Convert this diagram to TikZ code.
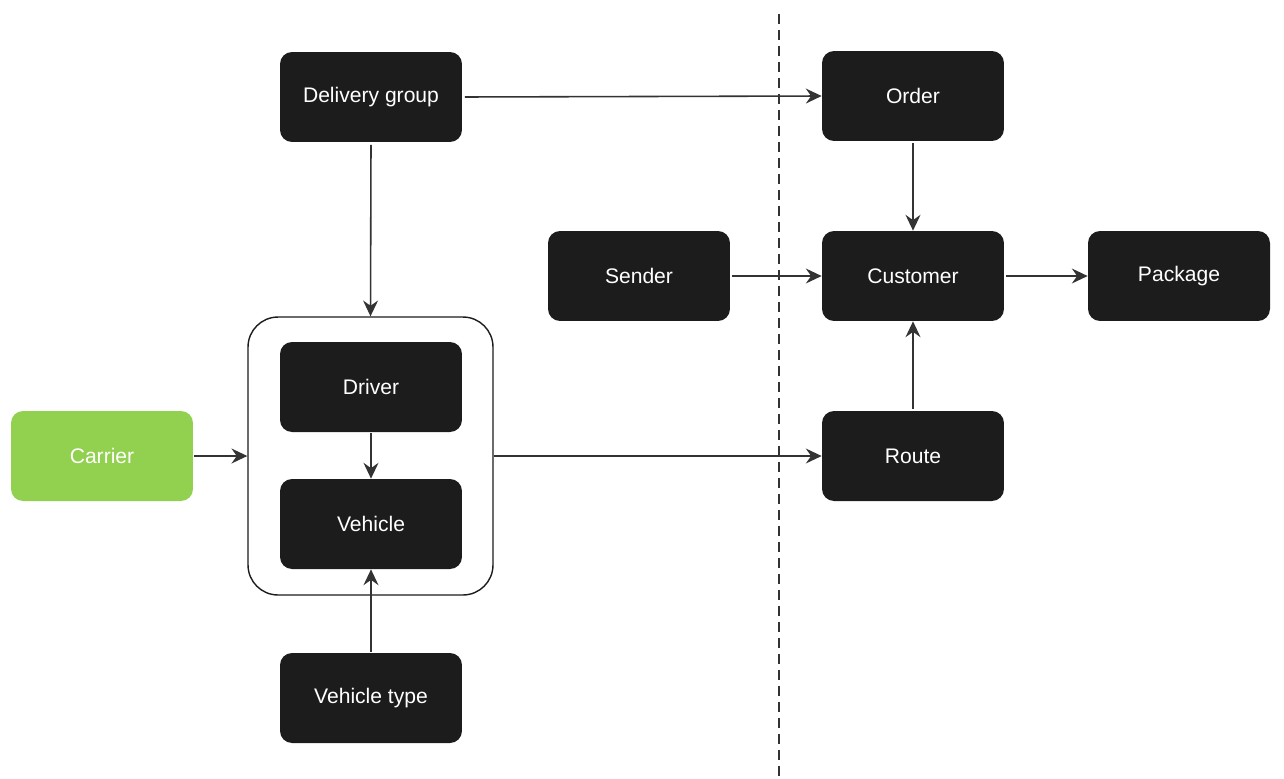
\documentclass[tikz,border=0pt]{standalone}
\usepackage{fontspec}
\setmainfont{Liberation Sans}
\usepackage{tikz}
\usetikzlibrary{arrows.meta}
\definecolor{boxdark}{HTML}{1C1C1C}
\definecolor{boxgreen}{HTML}{92D050}
\tikzset{
  font={\fontsize{12pt}{14}\selectfont}}

\begin{document}
\begin{tikzpicture}[x=0.02cm,y=-0.02cm]
\tikzstyle{entity}=[fill=boxdark, text=white, rounded corners=0.24cm, minimum width=3.64cm, minimum height=1.8cm, inner sep=0pt]
\tikzstyle{link}=[draw=boxdark!90!white, line width=0.9pt, -{Stealth[length=9pt,width=8.5pt,inset=3pt]}]
\useasboundingbox (0,0) rectangle (1284,778);
% boundary
\draw [boxdark!90!white, line width=0.8pt, dash pattern=on 0.2cm off 0.12cm] (779,14) -- (779,778);
% group frame
\node [draw=boxdark, line width=0.8pt, rounded corners=0.6cm, minimum width=4.9cm, minimum height=5.56cm] (crew) at (370.5,456) {};
\node [entity] (dgroup) at (371,97) {Delivery group};
\node [entity] (order) at (913,96) {Order};
\node [entity] (sender) at (639,276) {Sender};
\node [entity] (customer) at (913,276) {Customer};
\node [entity] (package) at (1179,276) {Package};
\node [entity] (driver) at (371,387) {Driver};
\node [entity] (vehicle) at (371,524) {Vehicle};
\node [entity, fill=boxgreen] (carrier) at (102,456) {Carrier};
\node [entity] (route) at (913,456) {Route};
\node [entity] (vtype) at (371,698) {Vehicle type};
\draw [link, shorten <=1.5pt] (dgroup.east) -- (order.west);
\draw [link, shorten <=1.5pt] (dgroup.south) -- (crew.north);
\draw [link, shorten <=1pt] (order.south) -- (customer.north);
\draw [link, shorten <=1pt] (sender.east) -- (customer.west);
\draw [link, shorten <=1pt] (customer.east) -- (package.west);
\draw [link, shorten <=1pt] (route.north) -- (customer.south);
\draw [link, shorten <=0.5pt] (carrier.east) -- (crew.west);
\draw [link, shorten <=0.5pt] (driver.south) -- (vehicle.north);
\draw [link] (crew.east) -- (route.west);
\draw [link, shorten <=0.5pt] (vtype.north) -- (vehicle.south);
\end{tikzpicture}
\end{document}
